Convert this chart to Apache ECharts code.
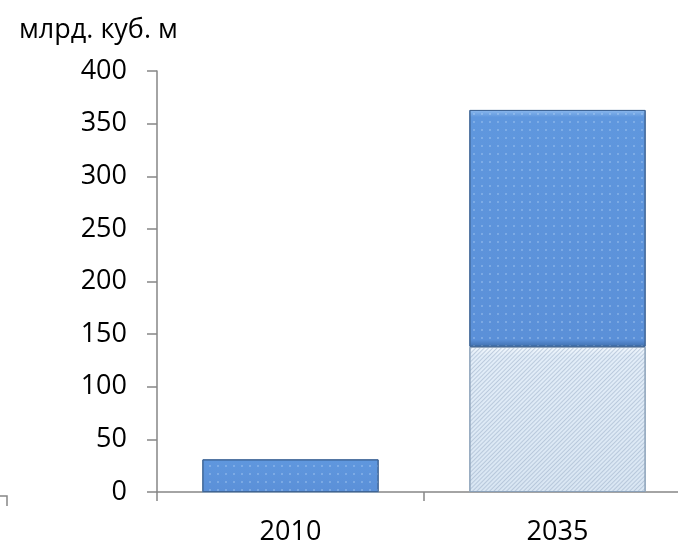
<!DOCTYPE html>
<html><head><meta charset="utf-8">
<script src="https://cdn.jsdelivr.net/npm/echarts@6/dist/echarts.min.js"></script>
<style>html,body{margin:0;padding:0;background:#fff}#c{width:678px;height:544px}</style>
</head><body><div id="c"></div>
<script>
const categories = ['2010', '2035'];
const lowerValues = [0, 138];
const upperValues = [31, 225];
const yTicks = { min: 0, max: 400, interval: 50 };
const unitLabel = 'млрд. куб. м';

const chart = echarts.init(document.getElementById('c'));
const font = '"Open Sans", "Noto Sans", sans-serif';
chart.setOption({
  animation: false,
  backgroundColor: '#fff',
  title: { text: unitLabel, left: 14, top: 12, textStyle: { fontFamily: font, fontSize: 27, fontWeight: 'normal', color: '#000' } },
  grid: { left: 157, top: 71, width: 534, height: 421, outerBoundsMode: 'none', containLabel: false },
  xAxis: {
    type: 'category', data: categories,
    axisLine: { lineStyle: { color: '#868686', width: 1.5 } },
    axisTick: { show: true, alignWithLabel: false, length: 9, lineStyle: { color: '#868686', width: 1.5 } },
    axisLabel: { fontFamily: font, fontSize: 27, color: '#000', margin: 27 }
  },
  yAxis: {
    type: 'value', min: yTicks.min, max: yTicks.max, interval: yTicks.interval,
    splitLine: { show: false },
    axisLine: { show: true, lineStyle: { color: '#868686', width: 1.5 } },
    axisTick: { show: true, length: 10, lineStyle: { color: '#868686', width: 1.5 } },
    axisLabel: { fontFamily: font, fontSize: 27, color: '#000', margin: 30 }
  },
  series: [
    {
      type: 'bar', stack: 's', data: lowerValues, barWidth: '66%',
      itemStyle: {
        color: new echarts.graphic.LinearGradient(0, 0, 0, 1, [
          { offset: 0, color: '#f3f8fd' }, { offset: 0.06, color: '#e2edf8' }, { offset: 1, color: '#d9e6f3' }]),
        borderColor: '#8aa0b8', borderWidth: 1,
        decal: { symbol: 'rect', symbolSize: 1, dashArrayX: [1, 0], dashArrayY: [1, 2], rotation: -Math.PI / 4, color: 'rgba(150,170,195,0.5)' }
      }
    },
    {
      type: 'bar', stack: 's', data: upperValues, barWidth: '66%',
      itemStyle: {
        color: new echarts.graphic.LinearGradient(0, 0, 0, 1, [
          { offset: 0, color: '#8cb9ee' }, { offset: 0.03, color: '#5f97de' }, { offset: 0.97, color: '#5b90d8' }, { offset: 1, color: '#3f6fae' }]),
        borderColor: '#3f6596', borderWidth: 1,
        decal: { symbol: 'rect', symbolSize: 0.35, dashArrayX: [[4, 4]], dashArrayY: [4, 4], color: 'rgba(200,225,250,0.55)' }
      }
    }
  ],
  graphic: [
    { type: 'polyline', shape: { points: [[0, 496], [7, 496], [7, 506]] }, style: { stroke: '#868686', lineWidth: 1.5, fill: null } }
  ]
});
</script></body></html>
